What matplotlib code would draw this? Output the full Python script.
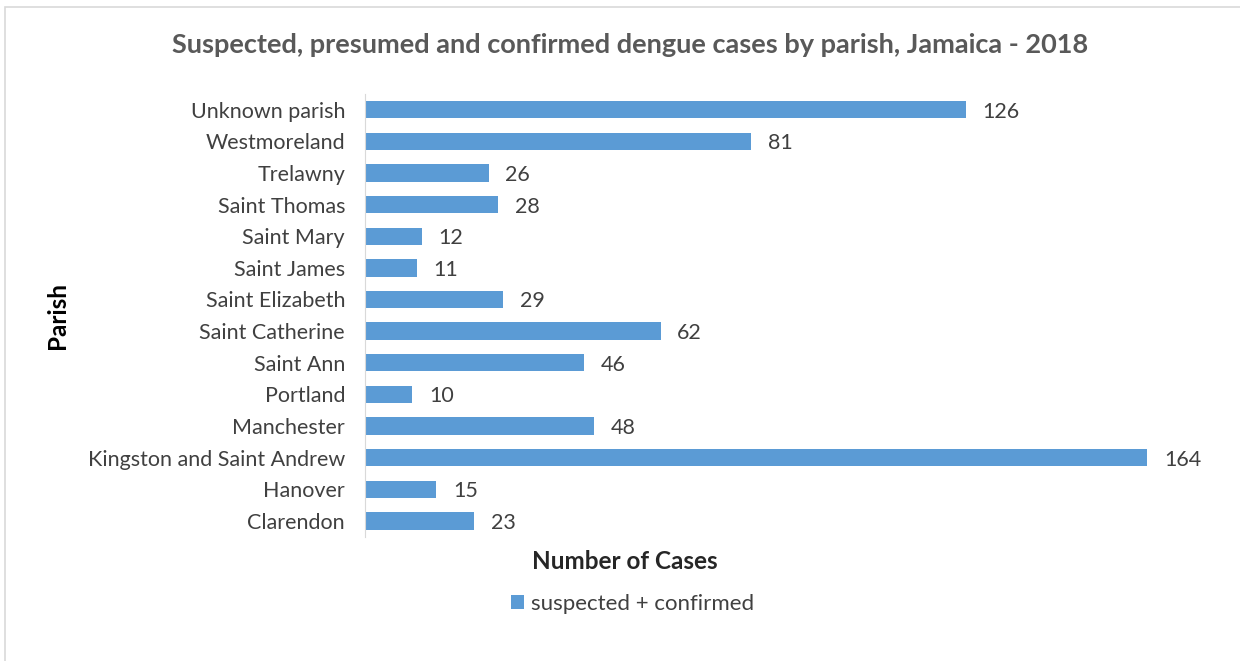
import matplotlib.pyplot as plt
from matplotlib.patches import Rectangle

parishes = ['Clarendon', 'Hanover', 'Kingston and Saint Andrew', 'Manchester',
            'Portland', 'Saint Ann', 'Saint Catherine', 'Saint Elizabeth',
            'Saint James', 'Saint Mary', 'Saint Thomas', 'Trelawny',
            'Westmoreland', 'Unknown parish']
cases = [23, 15, 164, 48, 10, 46, 62, 29, 11, 12, 28, 26, 81, 126]

plt.rcParams['font.family'] = ['Lato', 'DejaVu Sans']

bar_color = '#5B9BD5'
text_color = '#404040'

fig = plt.figure(figsize=(12.4, 6.61), dpi=100)
fig.patches.append(Rectangle((0.004, -0.01), 1.5, 1.0, transform=fig.transFigure,
                             fill=False, edgecolor='#D9D9D9', linewidth=1.2))

ax = fig.add_axes([0.294, 0.188, 0.693, 0.670])
ypos = range(len(parishes))
bars = ax.barh(ypos, cases, height=0.55, color=bar_color)

for y, v in zip(ypos, cases):
    ax.text(v + 3.5, y, str(v), va='center_baseline', ha='left', fontsize=15.5, color=text_color)

ax.set_xlim(0, 180)
ax.set_ylim(-0.5, len(parishes) - 0.5)
ax.set_yticks(list(ypos))
ax.set_yticklabels(parishes, fontsize=15.5, color=text_color)
ax.set_xticks([])
ax.tick_params(axis='y', length=0, pad=14)
for side in ['top', 'right', 'bottom']:
    ax.spines[side].set_visible(False)
ax.spines['left'].set_color('#D9D9D9')

fig.text(0.508, 0.932, 'Suspected, presumed and confirmed dengue cases by parish, Jamaica - 2018',
         ha='center', va='center', fontsize=19.5, fontweight='bold', color='#595959')
fig.text(0.046, 0.523, 'Parish', rotation=90, ha='center', va='center',
         fontsize=17.5, fontweight='bold', color='black')
fig.text(0.504, 0.151, 'Number of Cases', ha='center', va='center',
         fontsize=17.5, fontweight='bold', color='#262626')

leg = fig.legend([bars], ['suspected + confirmed'], loc='center', bbox_to_anchor=(0.51, 0.086),
                 frameon=False, fontsize=16, handlelength=0.6, handleheight=0.6,
                 handletextpad=0.3)
for t in leg.get_texts():
    t.set_color(text_color)

fig.savefig('out.png', dpi=100)
